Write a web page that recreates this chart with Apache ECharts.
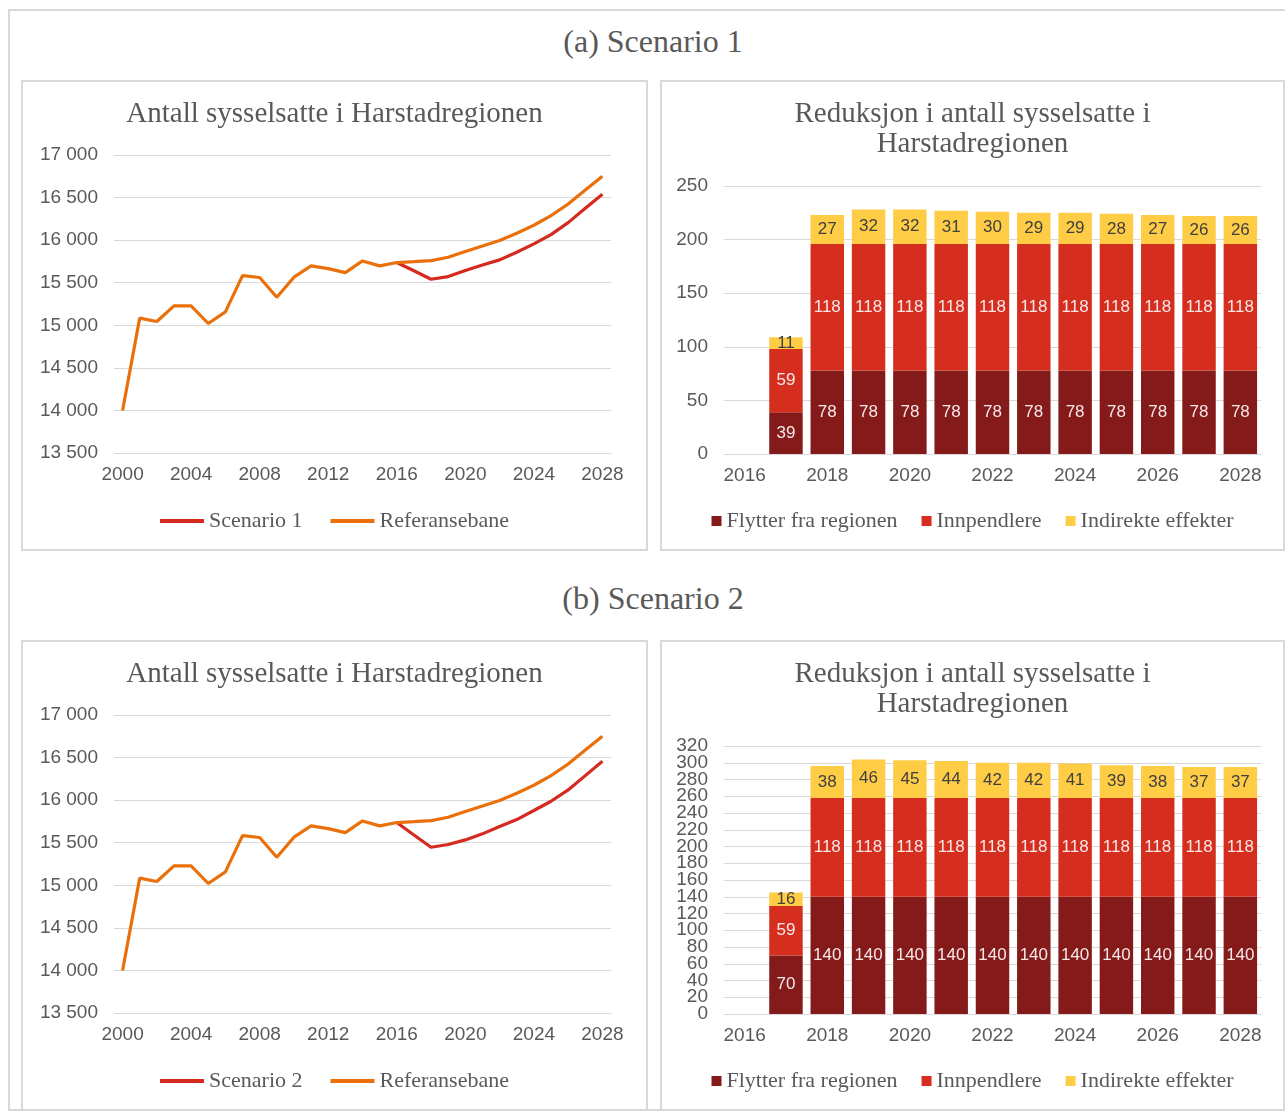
<!DOCTYPE html>
<html>
<head>
<meta charset="utf-8">
<script src="https://cdn.jsdelivr.net/npm/echarts@6/dist/echarts.min.js"></script>
<style>
  body { margin: 0; background: #fff; }
  .frame {
    position: absolute; left: 8px; top: 9px; width: 1300px; height: 1102px;
    border: 2px solid #d9d9d9; box-sizing: border-box;
  }
  .section-title {
    position: absolute; left: 0; width: 1306px; text-align: center;
    font-family: "Liberation Serif", serif; font-size: 32px; color: #595959;
  }
  .panel {
    position: absolute; border: 2px solid #d9d9d9; box-sizing: border-box; background: #fff;
  }
  .chart { position: absolute; left: 0; top: 0; right: 0; bottom: 0; }
</style>
</head>
<body>
<div class="frame"></div>
<div class="section-title" style="top:23px">(a) Scenario 1</div>
<div class="section-title" style="top:580px">(b) Scenario 2</div>

<div class="panel" style="left:21px;top:80px;width:627px;height:471px"><div id="lineA" class="chart"></div></div>
<div class="panel" style="left:660px;top:80px;width:625px;height:471px"><div id="barA" class="chart"></div></div>
<div class="panel" style="left:21px;top:640px;width:627px;height:471px"><div id="lineB" class="chart"></div></div>
<div class="panel" style="left:660px;top:640px;width:625px;height:471px"><div id="barB" class="chart"></div></div>

<script>
// line charts: employment in the Harstad region
const years = ['2000', '2001', '2002', '2003', '2004', '2005', '2006', '2007', '2008', '2009',
  '2010', '2011', '2012', '2013', '2014', '2015', '2016', '2017', '2018', '2019',
  '2020', '2021', '2022', '2023', '2024', '2025', '2026', '2027', '2028'];

const referansebane = [14000, 15084, 15044, 15228, 15228, 15021, 15158, 15584, 15561, 15330,
  15565, 15698, 15666, 15619, 15756, 15698, 15737, 15748, 15760, 15799,
  15866, 15932, 15995, 16081, 16175, 16288, 16425, 16589, 16750];

const scenario1 = [null, null, null, null, null, null, null, null, null, null,
  null, null, null, null, null, null, 15737, 15640, 15541, 15572,
  15643, 15709, 15768, 15858, 15956, 16065, 16206, 16374, 16539];

const scenario2 = [null, null, null, null, null, null, null, null, null, null,
  null, null, null, null, null, null, 15737, 15590, 15447, 15479,
  15533, 15604, 15690, 15772, 15878, 15987, 16120, 16288, 16456];

// bar charts: reduction in employment
const barYears = ['2016', '2017', '2018', '2019', '2020', '2021', '2022', '2023', '2024', '2025', '2026', '2027', '2028'];

const flytter1 = [null, 39, 78, 78, 78, 78, 78, 78, 78, 78, 78, 78, 78];
const innpendlere1 = [null, 59, 118, 118, 118, 118, 118, 118, 118, 118, 118, 118, 118];
const indirekte1 = [null, 11, 27, 32, 32, 31, 30, 29, 29, 28, 27, 26, 26];

const flytter2 = [null, 70, 140, 140, 140, 140, 140, 140, 140, 140, 140, 140, 140];
const innpendlere2 = [null, 59, 118, 118, 118, 118, 118, 118, 118, 118, 118, 118, 118];
const indirekte2 = [null, 16, 38, 46, 45, 44, 42, 42, 41, 39, 38, 37, 37];

// y tick labels of the bar charts (drawn as evenly spaced label axis so none get dropped)
const barTicks1 = ['0', '50', '100', '150', '200', '250'];
const barTicks2 = ['0', '20', '40', '60', '80', '100', '120', '140', '160', '180',
  '200', '220', '240', '260', '280', '300', '320'];

const serif = 'Liberation Serif';
const sans = 'Liberation Sans';
const grey = '#595959';
const gridGrey = '#d9d9d9';

function spaced(v) {
  return String(v).replace(/\B(?=(\d{3})+(?!\d))/g, ' ');
}

function makeLineChart(id, scenarioName, scenarioData) {
  const chart = echarts.init(document.getElementById(id));
  chart.setOption({
    animation: false,
    title: {
      text: 'Antall sysselsatte i Harstadregionen',
      left: 'center',
      top: 13,
      textStyle: { fontFamily: serif, fontSize: 29, fontWeight: 'normal', color: grey }
    },
    grid: { left: 91, right: 35, top: 73, height: 298 },
    xAxis: {
      type: 'category',
      data: years,
      boundaryGap: true,
      axisLine: { lineStyle: { color: gridGrey } },
      axisTick: { show: false },
      axisLabel: { interval: 3, color: grey, fontFamily: sans, fontSize: 19, margin: 12 }
    },
    yAxis: {
      type: 'value',
      min: 13500,
      max: 17000,
      interval: 500,
      axisLabel: { color: grey, fontFamily: sans, fontSize: 19, margin: 16, formatter: spaced },
      splitLine: { lineStyle: { color: gridGrey } }
    },
    legend: {
      top: 423,
      left: 'center',
      icon: 'rect',
      itemWidth: 44,
      itemHeight: 4,
      itemGap: 28,
      itemTextGap: 3,
      textStyle: { fontFamily: serif, fontSize: 22, color: grey },
      data: [scenarioName, 'Referansebane']
    },
    series: [
      {
        name: scenarioName,
        type: 'line',
        data: scenarioData,
        symbol: 'none',
        lineStyle: { width: 3.2, color: '#d42a20' },
        itemStyle: { color: '#d42a20' }
      },
      {
        name: 'Referansebane',
        type: 'line',
        data: referansebane,
        symbol: 'none',
        lineStyle: { width: 3.2, color: '#ea700c' },
        itemStyle: { color: '#ea700c' }
      }
    ]
  });
  return chart;
}

function makeBarChart(id, flytter, innpendlere, indirekte, ticks) {
  const chart = echarts.init(document.getElementById(id));
  const lightLabel = { show: true, position: 'inside', color: '#f6e8e8', fontFamily: sans, fontSize: 17 };
  const yMax = Number(ticks[ticks.length - 1]);
  const yStep = Number(ticks[1]);
  chart.setOption({
    animation: false,
    title: {
      text: 'Reduksjon i antall sysselsatte i\nHarstadregionen',
      left: 'center',
      top: 12,
      textStyle: { fontFamily: serif, fontSize: 29, fontWeight: 'normal', color: grey, lineHeight: 30 }
    },
    grid: { left: 62, right: 22, top: 104, height: 268 },
    xAxis: {
      type: 'category',
      data: barYears,
      axisLine: { lineStyle: { color: gridGrey } },
      axisTick: { show: false },
      axisLabel: { interval: 1, color: grey, fontFamily: sans, fontSize: 19, margin: 12 }
    },
    yAxis: [
      {
        type: 'value',
        min: 0,
        max: yMax,
        interval: yStep,
        axisLabel: { show: false },
        splitLine: { lineStyle: { color: gridGrey } }
      },
      {
        type: 'category',
        position: 'left',
        data: ticks,
        boundaryGap: false,
        axisLine: { show: false },
        axisTick: { show: false },
        splitLine: { show: false },
        axisLabel: { interval: 0, color: grey, fontFamily: sans, fontSize: 19, margin: 16 }
      }
    ],
    legend: {
      top: 423,
      left: 'center',
      icon: 'rect',
      itemWidth: 10,
      itemHeight: 10,
      itemGap: 24,
      itemTextGap: 3,
      textStyle: { fontFamily: serif, fontSize: 22, color: grey },
      data: ['Flytter fra regionen', 'Innpendlere', 'Indirekte effekter']
    },
    series: [
      {
        name: 'Flytter fra regionen',
        type: 'bar',
        stack: 'total',
        yAxisIndex: 0,
        barCategoryGap: '19%',
        data: flytter,
        itemStyle: { color: '#841a1a' },
        label: lightLabel
      },
      {
        name: 'Innpendlere',
        type: 'bar',
        stack: 'total',
        yAxisIndex: 0,
        data: innpendlere,
        itemStyle: { color: '#d62e1e' },
        label: lightLabel
      },
      {
        name: 'Indirekte effekter',
        type: 'bar',
        stack: 'total',
        yAxisIndex: 0,
        data: indirekte,
        itemStyle: { color: '#ffcc45' },
        label: { show: true, position: 'inside', color: '#404040', fontFamily: sans, fontSize: 17 }
      }
    ]
  });
  return chart;
}

const charts = [
  makeLineChart('lineA', 'Scenario 1', scenario1),
  makeBarChart('barA', flytter1, innpendlere1, indirekte1, barTicks1),
  makeLineChart('lineB', 'Scenario 2', scenario2),
  makeBarChart('barB', flytter2, innpendlere2, indirekte2, barTicks2)
];

window.addEventListener('resize', function () {
  charts.forEach(function (c) { c.resize(); });
});
</script>
</body>
</html>
